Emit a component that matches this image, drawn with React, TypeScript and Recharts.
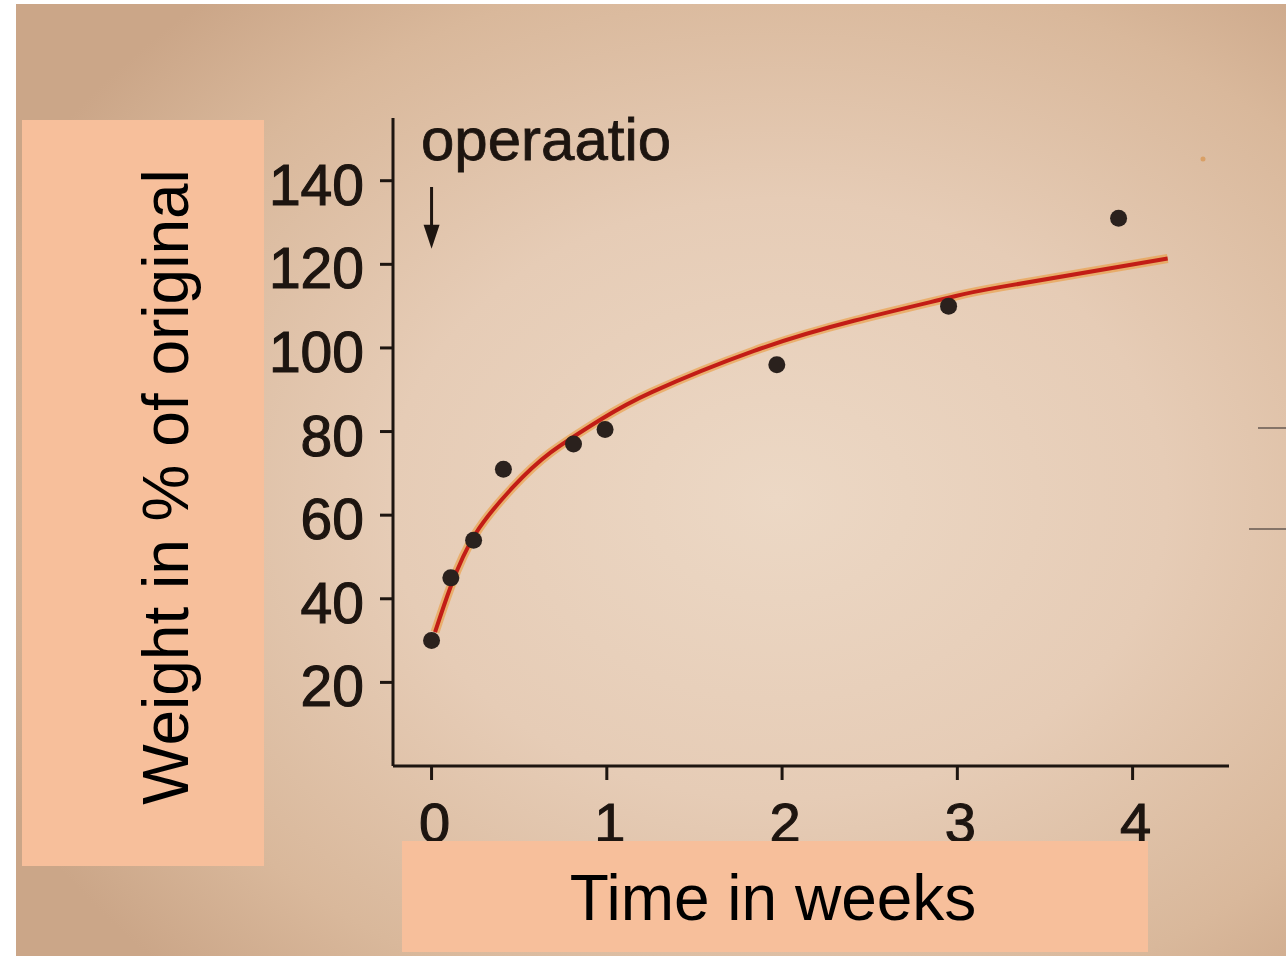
import React from "react";
import {
  ComposedChart,
  Line,
  Scatter,
  XAxis,
  YAxis,
  ReferenceLine,
  ReferenceDot,
} from "recharts";

// measured weights (dots), weeks after the operation
const measuredWeeks = [0, 0.11, 0.24, 0.41, 0.81, 0.99, 1.97, 2.95, 3.92];
const measuredPct = [30, 45, 54, 71, 77, 80.5, 96, 110, 131];

// hand-drawn fitted curve
const curveWeeks = [0.02, 0.11, 0.25, 0.46, 0.68, 0.97, 1.26, 1.84, 2.41, 2.95, 3.25, 4.2];
const curvePct = [32, 43, 55.5, 66.5, 75, 83, 89.5, 99.3, 106.5, 112, 114.6, 121.4];

const xTicks = [0, 1, 2, 3, 4];
const yTicks = [20, 40, 60, 80, 100, 120, 140];

const measured = measuredWeeks.map((x, i) => ({ x, y: measuredPct[i] }));
const curve = curveWeeks.map((x, i) => ({ x, y: curvePct[i] }));

const INK = "#1d1510";
const BOX = "#f7bf9b";
const FONT = "'Liberation Sans', Arial, sans-serif";

const YTick = ({ x, y, payload }: any) => (
  <text x={x} y={y + 24} textAnchor="end" fontFamily={FONT} fontSize={57} fill={INK} stroke={INK} strokeWidth={1.1}>
    {payload.value}
  </text>
);

const XTick = ({ x, y, payload }: any) => (
  <text x={x + 3} y={y + 60} textAnchor="middle" fontFamily={FONT} fontSize={56} fill={INK} stroke={INK} strokeWidth={1.1}>
    {payload.value}
  </text>
);

const Dot = ({ cx, cy }: any) => <circle cx={cx} cy={cy} r={8.5} fill="#2a211d" />;

const ArrowHead = ({ cx, cy }: any) => (
  <path d={`M${cx - 8},${cy - 24} L${cx + 8},${cy - 24} L${cx},${cy} Z`} fill={INK} />
);

export default function App() {
  return (
    <div style={{ position: "absolute", left: 0, top: 0, width: 1286, height: 956, background: "#ffffff", overflow: "hidden" }}>
      <div
        style={{
          position: "absolute",
          left: 16,
          top: 4,
          width: 1270,
          height: 952,
          background:
            "radial-gradient(ellipse 68% 70% at 60% 52%, #ecd8c5 0%, #e6ccb6 45%, #d9b89b 80%, #cba688 100%)",
        }}
      />
      <div style={{ position: "absolute", left: 0, top: 0 }}>
        <ComposedChart width={1286} height={956} margin={{ top: 118, right: 57, bottom: 0, left: 0 }}>
          <XAxis
            type="number"
            dataKey="x"
            domain={[-0.22, 4.55]}
            ticks={xTicks}
            height={190}
            tickSize={14}
            tick={<XTick />}
            axisLine={{ stroke: INK, strokeWidth: 3 }}
            tickLine={{ stroke: INK, strokeWidth: 3 }}
            allowDataOverflow
          />
          <YAxis
            type="number"
            dataKey="y"
            domain={[0, 155]}
            ticks={yTicks}
            width={393}
            tickSize={13}
            tickMargin={16}
            tick={<YTick />}
            axisLine={{ stroke: INK, strokeWidth: 3 }}
            tickLine={{ stroke: INK, strokeWidth: 3 }}
            allowDataOverflow
          />
          <ReferenceLine
            segment={[
              { x: 0, y: 138.5 },
              { x: 0, y: 128 },
            ]}
            stroke={INK}
            strokeWidth={3}
          />
          <ReferenceDot x={0} y={123.7} shape={<ArrowHead />} />
          <Line
            data={curve}
            dataKey="y"
            type="natural"
            stroke="#eb9a3a"
            strokeOpacity={0.6}
            strokeWidth={9}
            dot={false}
            activeDot={false}
            isAnimationActive={false}
          />
          <Line
            data={curve}
            dataKey="y"
            type="natural"
            stroke="#c21d16"
            strokeWidth={4}
            dot={false}
            activeDot={false}
            isAnimationActive={false}
          />
          <Scatter data={measured} dataKey="y" shape={<Dot />} isAnimationActive={false} />
        </ComposedChart>
      </div>
      <svg width={1286} height={956} style={{ position: "absolute", left: 0, top: 0, pointerEvents: "none" }}>
        <text x={421} y={160} fontFamily={FONT} fontSize={60} fill={INK} stroke={INK} strokeWidth={0.8}>
          operaatio
        </text>
        <rect x={22} y={120} width={242} height={746} fill={BOX} />
        <text
          transform="translate(188,487) rotate(-90)"
          textAnchor="middle"
          fontFamily={FONT}
          fontSize={64}
          fill="#000000"
        >
          Weight in % of original
        </text>
        <rect x={402} y={841} width={746} height={111} fill={BOX} />
        <text x={773} y={920} textAnchor="middle" fontFamily={FONT} fontSize={64} fill="#000000">
          Time in weeks
        </text>
        <line x1={1258} y1={428} x2={1286} y2={428} stroke="#857468" strokeWidth={2} />
        <line x1={1249} y1={529} x2={1286} y2={529} stroke="#857468" strokeWidth={2} />
        <circle cx={1203} cy={159} r={2.5} fill="#d9a066" />
      </svg>
    </div>
  );
}
